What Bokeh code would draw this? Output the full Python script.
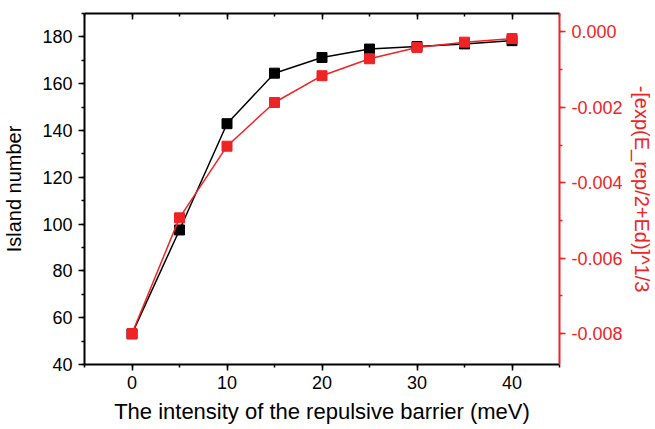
from bokeh.plotting import figure
from bokeh.models import Range1d, LinearAxis, SingleIntervalTicker, PrintfTickFormatter, CustomJSTickFormatter
from bokeh.embed import file_html
from bokeh.resources import INLINE

# Data
barrier = [0, 5, 10, 15, 20, 25, 30, 35, 40]
island_number = [53.1, 97.5, 142.9, 164.5, 171.2, 174.8, 175.9, 177.0, 178.4]
exp_term = [-0.00800, -0.00493, -0.00303, -0.00187, -0.00116, -0.00071, -0.00041, -0.00027, -0.000175]

x_title = "The intensity of the repulsive barrier (meV)"
y_title = "Island number"
y2_title = "-[exp(E_rep/2+Ed)]^1/3"

RED = "#ee2326"
FONT = "Liberation Sans"

p = figure(width=655, height=429,
           x_range=Range1d(-5, 45), y_range=Range1d(40, 190),
           output_backend="svg", toolbar_location=None,
           min_border_left=83, min_border_right=94,
           min_border_top=13, min_border_bottom=65)
p.extra_y_ranges = {"r": Range1d(-0.00882, 0.00049)}
p.xgrid.visible = False
p.ygrid.visible = False
p.outline_line_color = None
p.background_fill_color = "white"
p.border_fill_color = "white"


def style_axis(ax, color="black"):
    ax.axis_line_width = 2
    ax.axis_line_color = color
    ax.major_tick_line_color = color
    ax.minor_tick_line_color = color
    ax.major_tick_line_width = 1.5
    ax.minor_tick_line_width = 1.5
    ax.major_tick_in = 0
    ax.major_tick_out = 6
    ax.minor_tick_in = 0
    ax.minor_tick_out = 3
    ax.major_label_text_font = FONT
    ax.major_label_text_font_size = "18px"
    ax.major_label_text_color = color
    ax.axis_label_text_font = FONT
    ax.axis_label_text_font_style = "normal"
    ax.axis_label_text_color = color


# bottom axis
xa = p.xaxis[0]
xa.ticker = SingleIntervalTicker(interval=10, num_minor_ticks=2)
style_axis(xa)
xa.axis_label = x_title
xa.axis_label_text_font_size = "22px"
xa.major_label_standoff = 5
xa.axis_label_standoff = 7

# left axis
ya = p.yaxis[0]
ya.ticker = SingleIntervalTicker(interval=20, num_minor_ticks=2)
style_axis(ya)
ya.axis_label = y_title
ya.axis_label_text_font_size = "20px"
ya.major_label_standoff = 6
ya.axis_label_standoff = 14

# top axis (ticks only, inward)
top = LinearAxis(ticker=SingleIntervalTicker(interval=10, num_minor_ticks=2))
style_axis(top)
top.major_tick_in = 6
top.major_tick_out = 0
top.minor_tick_in = 3
top.minor_tick_out = 0
top.formatter = CustomJSTickFormatter(code="return ''")
top.major_label_text_font_size = "0px"
top.major_label_standoff = 0
p.add_layout(top, "above")

# right axis
ra = LinearAxis(y_range_name="r",
                ticker=SingleIntervalTicker(interval=0.002, num_minor_ticks=2),
                formatter=PrintfTickFormatter(format="%.3f"))
style_axis(ra, RED)
ra.axis_label = y2_title
ra.axis_label_text_font_size = "20px"
ra.major_label_standoff = 6
ra.axis_label_standoff = 5
p.add_layout(ra, "right")

# series
p.line(barrier, island_number, line_color="black", line_width=1.5)
p.scatter(barrier, island_number, marker="square", size=10,
          fill_color="black", line_color="black")
p.line(barrier, exp_term, line_color=RED, line_width=1.5, y_range_name="r")
p.scatter(barrier, exp_term, marker="square", size=10,
          fill_color=RED, line_color=RED, y_range_name="r")

open("out.html", "w").write(file_html(p, INLINE))
